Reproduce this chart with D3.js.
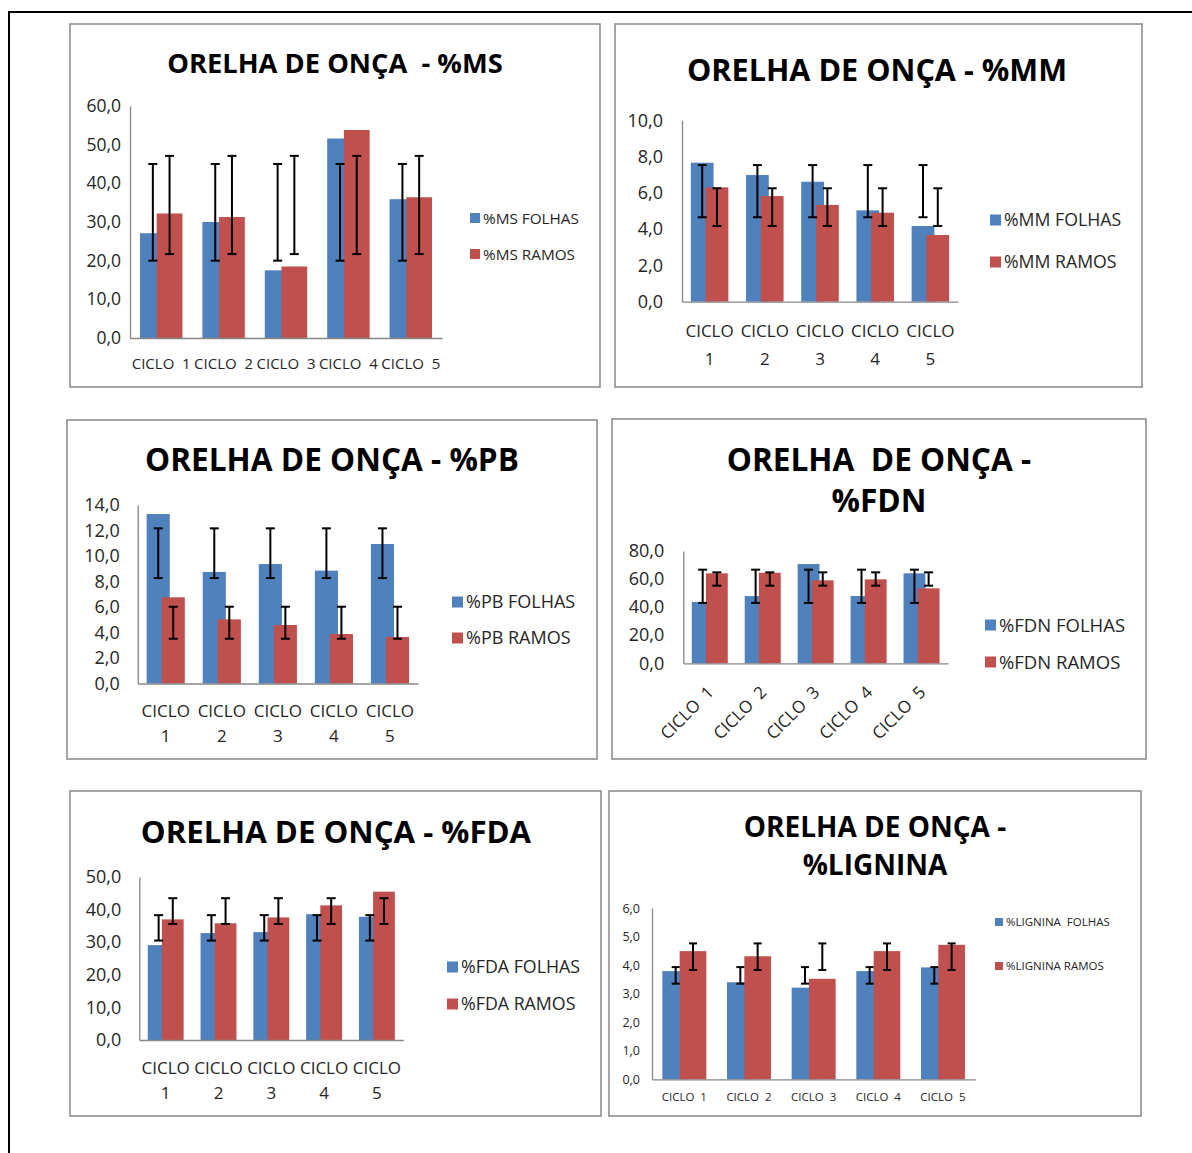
<!DOCTYPE html>
<html>
<head>
<meta charset="utf-8">
<script src="https://cdnjs.cloudflare.com/ajax/libs/d3/7.8.5/d3.min.js"></script>
<style>
  body { margin: 0; background: #fff; }
  text { font-family: "Open Sans", "Noto Sans", sans-serif; }
</style>
</head>
<body>
<div id="chart"></div>
<script>
// categories
const ciclos = ['CICLO  1', 'CICLO  2', 'CICLO  3', 'CICLO  4', 'CICLO  5'];

// %MS
const msFolhas = [27.1, 30.0, 17.5, 51.6, 35.9];
const msRamos = [32.2, 31.3, 18.5, 53.8, 36.4];
const msErroFolhas = [20.0, 45.0];
const msErroRamos = [21.7, 47.1];

// %MM
const mmFolhas = [7.67, 6.99, 6.62, 5.04, 4.18];
const mmRamos = [6.31, 5.83, 5.34, 4.91, 3.68];
const mmErroFolhas = [4.66, 7.54];
const mmErroRamos = [4.18, 6.26];

// %PB
const pbFolhas = [13.29, 8.75, 9.37, 8.85, 10.94];
const pbRamos = [6.76, 5.03, 4.59, 3.88, 3.65];
const pbErroFolhas = [8.27, 12.17];
const pbErroRamos = [3.51, 6.02];

// %FDN
const fdnFolhas = [43.7, 47.9, 70.7, 47.9, 64.1];
const fdnRamos = [64.1, 64.5, 59.1, 59.8, 53.4];
const fdnErroFolhas = [43.0, 66.7];
const fdnErroRamos = [55.3, 64.8];

// %FDA
const fdaFolhas = [29.1, 32.8, 33.1, 38.6, 37.8];
const fdaRamos = [37.0, 35.8, 37.6, 41.3, 45.5];
const fdaErroFolhas = [30.5, 38.3];
const fdaErroRamos = [35.6, 43.5];

// %LIGNINA
const ligFolhas = [3.79, 3.40, 3.21, 3.79, 3.92];
const ligRamos = [4.49, 4.31, 3.52, 4.49, 4.71];
const ligErroFolhas = [3.35, 3.93];
const ligErroRamos = [3.83, 4.76];

const corFolhas = '#4F81BD';
const corRamos = '#C0504D';

const W = 1192, H = 1153;
const fmt = d3.formatLocale({ decimal: ',', thousands: '.', grouping: [3], currency: ['', ''] }).format('.1f');

const svg = d3.select('#chart').append('svg')
    .attr('width', W)
    .attr('height', H);

// page frame (top and left lines only)
svg.append('path')
    .attr('d', 'M9,1153 V12 H1192')
    .attr('fill', 'none')
    .attr('stroke', '#000')
    .attr('stroke-width', 2);

const panels = [
    { title: ['ORELHA DE ONÇA  - %MS'], titleY: [73], titleSize: 27.3, cx: 335,
      box: [70, 24, 530, 363], plot: { left: 130, right: 442, top: 106, bottom: 338 },
      yMax: 60, yStep: 10, tickSize: 17.5, tickPad: 9, labels: 'single', labelY: [369], labelSize: 15,
      legend: { x: 470, y: [218, 254], size: 15.3, sq: 10 },
      series: [msFolhas, msRamos], erros: [msErroFolhas, msErroRamos],
      nomes: ['%MS FOLHAS', '%MS RAMOS'], cap: 9 },
    { title: ['ORELHA DE ONÇA - %MM'], titleY: [81], titleSize: 30.6, cx: 877,
      box: [615, 24, 527, 363], plot: { left: 682, right: 958, top: 120.5, bottom: 301.7 },
      yMax: 10, yStep: 2, tickSize: 18, tickPad: 19, labels: 'wrap', labelY: [337, 365], labelSize: 17,
      legend: { x: 990, y: [220, 262], size: 17.7, sq: 11 },
      series: [mmFolhas, mmRamos], erros: [mmErroFolhas, mmErroRamos],
      nomes: ['%MM FOLHAS', '%MM RAMOS'], cap: 9 },
    { title: ['ORELHA DE ONÇA - %PB'], titleY: [471], titleSize: 31.6, cx: 332,
      box: [67, 420, 530, 339], plot: { left: 137.7, right: 418, top: 505, bottom: 683.5 },
      yMax: 14, yStep: 2, tickSize: 18, tickPad: 18, labels: 'wrap', labelY: [717, 742], labelSize: 17,
      legend: { x: 452, y: [602, 638], size: 18, sq: 11 },
      series: [pbFolhas, pbRamos], erros: [pbErroFolhas, pbErroRamos],
      nomes: ['%PB FOLHAS', '%PB RAMOS'], cap: 9 },
    { title: ['ORELHA  DE ONÇA -', '%FDN'], titleY: [471, 512], titleSize: 31.6, cx: 879,
      box: [612, 419, 534, 340], plot: { left: 683.3, right: 948, top: 551, bottom: 663.3 },
      yMax: 80, yStep: 20, tickSize: 18, tickPad: 19, labels: 'rotate', labelSize: 17,
      legend: { x: 985, y: [625, 662], size: 18.5, sq: 11 },
      series: [fdnFolhas, fdnRamos], erros: [fdnErroFolhas, fdnErroRamos],
      nomes: ['%FDN FOLHAS', '%FDN RAMOS'], cap: 9 },
    { title: ['ORELHA DE ONÇA - %FDA'], titleY: [843], titleSize: 31.2, cx: 336,
      box: [70, 791, 531, 325], plot: { left: 139.3, right: 403.3, top: 877, bottom: 1040 },
      yMax: 50, yStep: 10, tickSize: 18, tickPad: 18, labels: 'wrap', labelY: [1074, 1099], labelSize: 17,
      legend: { x: 447, y: [967, 1004], size: 17.8, sq: 11 },
      series: [fdaFolhas, fdaRamos], erros: [fdaErroFolhas, fdaErroRamos],
      nomes: ['%FDA FOLHAS', '%FDA RAMOS'], cap: 9 },
    { title: ['ORELHA DE ONÇA -', '%LIGNINA'], titleY: [837, 875], titleSize: 28, cx: 875,
      box: [609, 791, 532, 325], plot: { left: 652, right: 975.3, top: 908, bottom: 1079.3 },
      yMax: 6, yStep: 1, tickSize: 12.5, tickPad: 12, labels: 'single', labelY: [1101], labelSize: 11.5,
      legend: { x: 995, y: [922, 966], size: 11.5, sq: 8 },
      series: [ligFolhas, ligRamos], erros: [ligErroFolhas, ligErroRamos],
      nomes: ['%LIGNINA  FOLHAS', '%LIGNINA RAMOS'], cap: 8 }
];

function drawPanel(p) {
    const g = svg.append('g');

    g.append('rect')
        .attr('x', p.box[0])
        .attr('y', p.box[1])
        .attr('width', p.box[2])
        .attr('height', p.box[3])
        .attr('fill', '#fff')
        .attr('stroke', '#878787')
        .attr('stroke-width', 1.5);

    g.selectAll('.titulo')
        .data(p.title)
      .enter().append('text')
        .attr('x', p.cx)
        .attr('y', (d, i) => p.titleY[i])
        .attr('text-anchor', 'middle')
        .attr('font-size', p.titleSize + 'px')
        .attr('font-weight', 'bold')
        .attr('fill', '#000')
        .style('white-space', 'pre')
        .text(d => d);

    const x = d3.scaleBand()
        .domain(ciclos)
        .range([p.plot.left, p.plot.right])
        .paddingInner(0.32)
        .paddingOuter(0.16);
    const y = d3.scaleLinear()
        .domain([0, p.yMax])
        .range([p.plot.bottom, p.plot.top]);

    // bars overlap like excel (overlap ~35%)
    const bw = x.bandwidth() / 1.65;
    const offs = [0, x.bandwidth() - bw];
    const cores = [corFolhas, corRamos];

    p.series.forEach((vals, s) => {
        g.append('g').selectAll('rect')
            .data(vals)
          .enter().append('rect')
            .attr('x', (d, i) => x(ciclos[i]) + offs[s])
            .attr('y', d => y(d))
            .attr('width', bw)
            .attr('height', d => y(0) - y(d))
            .attr('fill', cores[s]);
    });

    // error bars
    p.erros.forEach((e, s) => {
        const eg = g.append('g')
            .attr('stroke', '#000')
            .attr('stroke-width', 2);
        ciclos.forEach(c => {
            const cx = x(c) + offs[s] + bw / 2;
            eg.append('line')
                .attr('x1', cx).attr('x2', cx)
                .attr('y1', y(e[0])).attr('y2', y(e[1]));
            e.forEach(v => {
                eg.append('line')
                    .attr('x1', cx - p.cap / 2).attr('x2', cx + p.cap / 2)
                    .attr('y1', y(v)).attr('y2', y(v));
            });
        });
    });

    // axes
    const yAxis = d3.axisLeft(y)
        .tickValues(d3.range(0, p.yMax + p.yStep / 2, p.yStep))
        .tickFormat(fmt)
        .tickSizeInner(0)
        .tickSizeOuter(0)
        .tickPadding(p.tickPad);
    const ya = g.append('g')
        .attr('transform', 'translate(' + p.plot.left + ',0)')
        .call(yAxis);
    ya.select('.domain').attr('stroke', '#868686').attr('stroke-width', 1.3);
    ya.selectAll('text')
        .attr('font-size', p.tickSize + 'px')
        .attr('font-family', '"Open Sans", sans-serif')
        .attr('fill', '#262626');

    const xAxis = d3.axisBottom(x)
        .tickSize(0)
        .tickFormat('');
    const xa = g.append('g')
        .attr('transform', 'translate(0,' + p.plot.bottom + ')')
        .call(xAxis);
    xa.select('.domain').attr('stroke', '#868686').attr('stroke-width', 1.3);

    const lab = g.append('g')
        .attr('font-size', p.labelSize + 'px')
        .attr('fill', '#262626');
    ciclos.forEach(c => {
        const cx = x(c) + x.bandwidth() / 2;
        if (p.labels === 'single') {
            lab.append('text')
                .attr('x', cx)
                .attr('y', p.labelY[0])
                .attr('text-anchor', 'middle')
                .style('white-space', 'pre')
                .text(c);
        } else if (p.labels === 'wrap') {
            c.split(/\s+/).forEach((w, k) => {
                lab.append('text')
                    .attr('x', cx)
                    .attr('y', p.labelY[k])
                    .attr('text-anchor', 'middle')
                    .text(w);
            });
        } else {
            lab.append('text')
                .attr('text-anchor', 'end')
                .attr('transform', 'translate(' + (cx + 5) + ',' + (p.plot.bottom + 30) + ') rotate(-45)')
                .style('white-space', 'pre')
                .text(c);
        }
    });

    // legend
    const lg = g.append('g');
    p.nomes.forEach((n, s) => {
        lg.append('rect')
            .attr('x', p.legend.x)
            .attr('y', p.legend.y[s] - p.legend.sq / 2)
            .attr('width', p.legend.sq)
            .attr('height', p.legend.sq)
            .attr('fill', cores[s]);
        lg.append('text')
            .attr('x', p.legend.x + p.legend.sq + 3)
            .attr('y', p.legend.y[s])
            .attr('dy', '0.36em')
            .attr('font-size', p.legend.size + 'px')
            .attr('fill', '#262626')
            .style('white-space', 'pre')
            .text(n);
    });
}

panels.forEach(drawPanel);
</script>
</body>
</html>
